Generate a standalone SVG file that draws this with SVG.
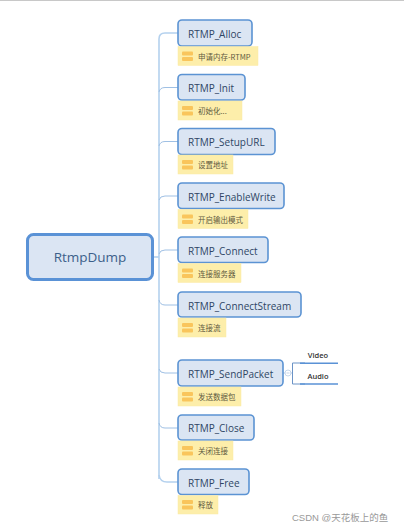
<svg xmlns="http://www.w3.org/2000/svg" width="404" height="532" viewBox="0 0 404 532">
<style>
.n rect{fill:#dbe5f3;stroke:#5b93d3;stroke-width:1.6}
.n text{font:10px "Open Sans","Liberation Sans",sans-serif;fill:#2f4565}
.m rect.b{fill:#fdeeaa;stroke:#fbe9a5;stroke-width:.5}
.m rect.i{fill:#f9c55c}
.m text{font:7.5px "Noto Sans CJK SC","Noto Sans",sans-serif;fill:#5f5a40}
.c{fill:none;stroke:#b4d1ee;stroke-width:1.6}
.d{fill:none;stroke:#9fc0e4;stroke-width:1}
.s text{font:600 7.5px "Open Sans","Liberation Sans",sans-serif;fill:#333}
</style>
<rect width="404" height="1" fill="#c8c8c8"/>
<g id="connectors">
<path class="c" d="M153 257H159"/>
<path class="c" d="M159 479V39Q159 33 165 33H178"/>
<path class="d" d="M159 92Q160 87.500 165 87.500H178M159 146Q160 141.500 165 141.500H178M159 200Q160 196 165 196H178M159 254Q160 250 165 250H178M159 300Q160 305 165 305H178M159 369Q160 373 165 373H178M159 423Q160 428 165 428H178"/>
<path class="c" d="M159 475Q160 482 167 482H178"/>
<path d="M283 373H292" stroke="#b9cde6" fill="none"/>
<path d="M305 363H292.500V384H305" stroke="#6b93c6" fill="none"/>
<circle cx="288" cy="373" r="3" fill="#fff" stroke="#b9cde6" stroke-width=".8"/>
<path d="M286.500 373H289.500" stroke="#9db5d6" stroke-width=".6"/>
</g>
<g id="root" class="n"><rect x="27.500" y="234.500" width="125" height="45" rx="6" style="stroke-width:3;stroke:#5a92d6"/><text x="90" y="262" text-anchor="middle" style="font-size:13.500px;fill:#3d5f8a">RtmpDump</text></g>
<g id="alloc" class="n"><rect x="178" y="20" width="74" height="26" rx="4"/><text x="188" y="38">RTMP_Alloc</text></g>
<g id="alloc-note" class="m"><rect class="b" x="178" y="46.500" width="80" height="19"/><rect class="i" x="182" y="51.500" width="11" height="4" rx="1"/><rect class="i" x="182" y="57" width="11" height="4" rx="1"/><text x="198" y="60">申请内存-RTMP</text></g>
<g id="init" class="n"><rect x="178" y="74.500" width="67" height="25.500" rx="4"/><text x="188" y="92">RTMP_Init</text></g>
<g id="init-note" class="m"><rect class="b" x="178" y="101" width="64" height="19"/><rect class="i" x="182" y="106" width="11" height="4" rx="1"/><rect class="i" x="182" y="111.500" width="11" height="4" rx="1"/><text x="198" y="114">初始化...</text></g>
<g id="setupurl" class="n"><rect x="178" y="128.500" width="97" height="26" rx="4"/><text x="188" y="146">RTMP_SetupURL</text></g>
<g id="setupurl-note" class="m"><rect class="b" x="178" y="155" width="55" height="19"/><rect class="i" x="182" y="160" width="11" height="4" rx="1"/><rect class="i" x="182" y="165.500" width="11" height="4" rx="1"/><text x="198" y="168">设置地址</text></g>
<g id="enablewrite" class="n"><rect x="178" y="183" width="106" height="25.500" rx="4"/><text x="188" y="201">RTMP_EnableWrite</text></g>
<g id="enablewrite-note" class="m"><rect class="b" x="178" y="209.500" width="70" height="19"/><rect class="i" x="182" y="214.500" width="11" height="4" rx="1"/><rect class="i" x="182" y="220" width="11" height="4" rx="1"/><text x="198" y="222.500">开启输出模式</text></g>
<g id="connect" class="n"><rect x="178" y="237" width="90" height="25.500" rx="4"/><text x="188" y="255">RTMP_Connect</text></g>
<g id="connect-note" class="m"><rect class="b" x="178" y="263.500" width="63" height="19"/><rect class="i" x="182" y="268.500" width="11" height="4" rx="1"/><rect class="i" x="182" y="274" width="11" height="4" rx="1"/><text x="198" y="277">连接服务器</text></g>
<g id="connectstream" class="n"><rect x="178" y="292" width="123" height="25" rx="4"/><text x="188" y="309.500">RTMP_ConnectStream</text></g>
<g id="connectstream-note" class="m"><rect class="b" x="178" y="318" width="48" height="19"/><rect class="i" x="182" y="323" width="11" height="4" rx="1"/><rect class="i" x="182" y="328.500" width="11" height="4" rx="1"/><text x="198" y="331">连接流</text></g>
<g id="sendpacket" class="n"><rect x="178" y="360" width="105" height="26" rx="4"/><text x="188" y="378">RTMP_SendPacket</text></g>
<g id="sendpacket-note" class="m"><rect class="b" x="178" y="387" width="63" height="19"/><rect class="i" x="182" y="392" width="11" height="4" rx="1"/><rect class="i" x="182" y="397.500" width="11" height="4" rx="1"/><text x="198" y="400">发送数据包</text></g>
<g id="video" class="s"><text x="318" y="358" text-anchor="middle">Video</text><path d="M300 363.300H338" stroke="#5a92d6" stroke-width="1.500"/></g>
<g id="audio" class="s"><text x="318" y="378.500" text-anchor="middle">Audio</text><path d="M300 384H338" stroke="#5a92d6" stroke-width="1.500"/></g>
<g id="close" class="n"><rect x="178" y="415" width="76" height="25" rx="4"/><text x="188" y="432">RTMP_Close</text></g>
<g id="close-note" class="m"><rect class="b" x="178" y="441" width="55" height="19"/><rect class="i" x="182" y="446" width="11" height="4" rx="1"/><rect class="i" x="182" y="451.500" width="11" height="4" rx="1"/><text x="198" y="454">关闭连接</text></g>
<g id="free" class="n"><rect x="178" y="469" width="71" height="25.500" rx="4"/><text x="188" y="486.500">RTMP_Free</text></g>
<g id="free-note" class="m"><rect class="b" x="178" y="495.500" width="40" height="18.500"/><rect class="i" x="182" y="500" width="11" height="4" rx="1"/><rect class="i" x="182" y="505.500" width="11" height="4" rx="1"/><text x="198" y="508">释放</text></g>
<text x="292" y="521" style="font:9.500px 'Liberation Sans','Noto Sans CJK SC',sans-serif;fill:#999">CSDN @天花板上的鱼</text>
</svg>
